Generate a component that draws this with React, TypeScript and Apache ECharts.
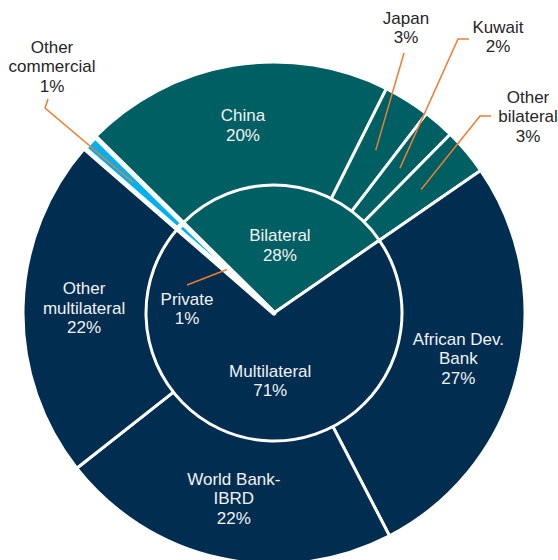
import React, { useEffect, useRef } from 'react';
import * as echarts from 'echarts';

// ---- data ----
const innerCategories = ['Bilateral', 'Multilateral', 'Private'];
const innerValues = [28, 71, 1];

const outerCategories = [
  'China',
  'Japan',
  'Kuwait',
  'Other\nbilateral',
  'African Dev.\nBank',
  'World Bank-\nIBRD',
  'Other\nmultilateral',
  'Other\ncommercial',
];
const outerValues = [20, 3, 2, 3, 27, 22, 22, 1];
const outerParents = [
  'Bilateral',
  'Bilateral',
  'Bilateral',
  'Bilateral',
  'Multilateral',
  'Multilateral',
  'Multilateral',
  'Private',
];

// ---- style / layout ----
const COLORS: Record<string, string> = {
  Bilateral: '#005F63',
  Multilateral: '#012D51',
  Private: '#00B0F0',
};
const CX = 274;
const CY = 313;
const R_OUT = 251;
const R_RING = 126;
const R_IN = 128;
const START = 135.4;
const FONT = "'Liberation Sans', Arial, sans-serif";
const LEADER = '#ED7D31';
const OUTER_LABEL_R = 190;
const INNER_LABEL_R = 68;

type Callout = { x: number; y: number; bend: number[]; end: number[]; r: number };
const outerCallouts: Record<string, Callout> = {
  Japan: { x: 406, y: 28, bend: [404, 53], end: [404, 53], r: 0.765 },
  Kuwait: { x: 498, y: 37, bend: [458, 39], end: [469, 39], r: 0.765 },
  'Other\nbilateral': { x: 528, y: 116.5, bend: [480, 116], end: [491, 116], r: 0.765 },
  'Other\ncommercial': { x: 52, y: 66.5, bend: [45, 108], end: [48, 99], r: 0.765 },
};
const innerCallouts: Record<string, Callout> = {
  Private: { x: 187, y: 309, bend: [187, 285], end: [187, 285], r: 0.5 },
};

function anchor(values: number[], idx: number, radius: number) {
  const total = values.reduce((a, b) => a + b, 0);
  const before = values.slice(0, idx).reduce((a, b) => a + b, 0);
  const ang = ((START - ((before + values[idx] / 2) / total) * 360) * Math.PI) / 180;
  return [CX + radius * Math.cos(ang), CY - radius * Math.sin(ang)];
}

function makeLayout(names: string[], values: number[], callouts: Record<string, Callout>, labelR: number) {
  return (params: any) => {
    const idx = params.dataIndex;
    const c = callouts[names[idx]];
    if (c) return { x: c.x, y: c.y, align: 'center', verticalAlign: 'middle' };
    const p = anchor(values, idx, labelR);
    return { x: p[0], y: p[1], align: 'center', verticalAlign: 'middle' };
  };
}

function leaders(names: string[], values: number[], callouts: Record<string, Callout>, outerR: number) {
  const out: any[] = [];
  names.forEach((name, idx) => {
    const c = callouts[name];
    if (!c) return;
    const a = anchor(values, idx, outerR * c.r);
    out.push({
      type: 'polyline',
      z: 100,
      silent: true,
      shape: { points: [a, c.bend, c.end] },
      style: { stroke: LEADER, lineWidth: 1.5, fill: null },
    });
  });
  return out;
}

export default function App() {
  const ref = useRef<HTMLDivElement>(null);
  useEffect(() => {
    if (!ref.current) return;
    const chart = echarts.init(ref.current, undefined, { renderer: 'svg' });

    const labelBase = {
      fontFamily: FONT,
      fontSize: 17,
      lineHeight: 19.5,
      overflow: 'none',
      align: 'center',
      position: 'inside',
    };

    const outerData = outerCategories.map((name, i) => {
      const isCallout = !!outerCallouts[name];
      const isSmall = outerParents[i] === 'Private';
      return {
        name,
        value: outerValues[i],
        itemStyle: {
          color: COLORS[outerParents[i]],
          borderWidth: isSmall ? 5 : 3,
        },
        label: {
          ...labelBase,
          color: isCallout ? '#262626' : '#F2F2F2',
          formatter: `${name}\n${Math.round(outerValues[i])}%`,
        },
        labelLine: { show: false },
      };
    });

    const innerData = innerCategories.map((name, i) => {
      const isSmall = name === 'Private';
      return {
        name,
        value: innerValues[i],
        itemStyle: { color: COLORS[name], borderWidth: isSmall ? 5 : 3 },
        label: {
          ...labelBase,
          color: '#F2F2F2',
          formatter: `${name}\n${Math.round(innerValues[i])}%`,
        },
        labelLine: { show: false },
      };
    });

    chart.setOption({
      animation: false,
      backgroundColor: '#ffffff',
      graphic: [
        ...leaders(outerCategories, outerValues, outerCallouts, R_OUT),
        ...leaders(innerCategories, innerValues, innerCallouts, R_IN),
      ],
      series: [
        {
          type: 'pie',
          center: [CX, CY],
          radius: [R_RING, R_OUT],
          startAngle: START,
          clockwise: true,
          avoidLabelOverlap: false,
          silent: true,
          itemStyle: { borderColor: '#ffffff', borderWidth: 3 },
          labelLayout: makeLayout(outerCategories, outerValues, outerCallouts, OUTER_LABEL_R),
          data: outerData,
        },
        {
          type: 'pie',
          center: [CX, CY],
          radius: [0, R_IN],
          startAngle: START,
          clockwise: true,
          avoidLabelOverlap: false,
          silent: true,
          itemStyle: { borderColor: '#ffffff', borderWidth: 3 },
          labelLayout: makeLayout(innerCategories, innerValues, innerCallouts, INNER_LABEL_R),
          data: innerData,
        },
      ],
    });
    return () => chart.dispose();
  }, []);
  return (
    <div
      ref={ref}
      style={{ position: 'absolute', left: 0, top: 0, width: 558, height: 560 }}
    />
  );
}
